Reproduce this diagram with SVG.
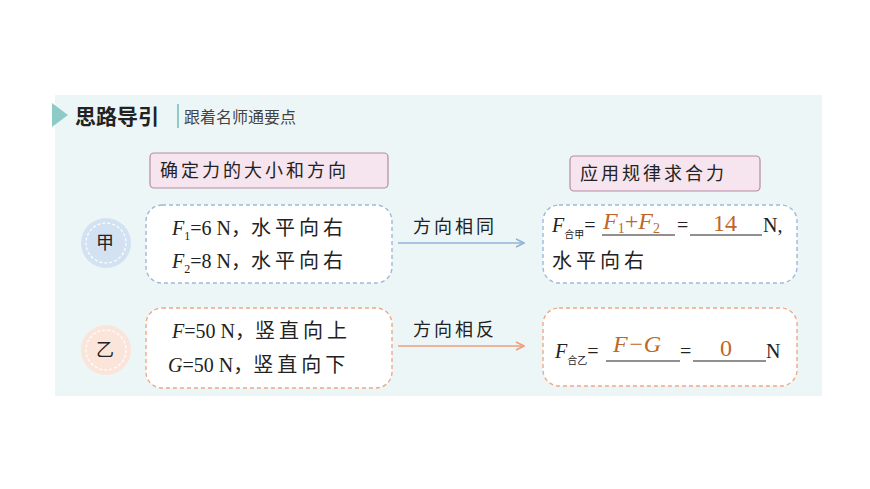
<svg xmlns="http://www.w3.org/2000/svg" width="870" height="489" viewBox="0 0 870 489">
<style>
.t{font-family:"Liberation Serif","Noto Sans CJK SC",serif;font-size:20px;fill:#222}
.s{letter-spacing:4px}
.c{font-family:"Noto Sans CJK SC",serif;font-size:18px;fill:#222;letter-spacing:3px}
.o{font-family:"Liberation Serif","Noto Sans CJK SC",serif;font-size:24px;fill:#c0662a}
.lab{fill:#f6e4ef;stroke:#b58aa5;stroke-width:1.2}
.bb{fill:#fff;stroke:#9fb8dc;stroke-width:1.4;stroke-dasharray:4 3}
.ob{fill:#fff;stroke:#efa888;stroke-width:1.4;stroke-dasharray:4 3}
.ul{stroke:#222;stroke-width:1.2}
</style>
<defs>
<marker id="ab" markerWidth="10" markerHeight="10" refX="9" refY="5" orient="auto" markerUnits="userSpaceOnUse"><path d="M1,1 L9,5 L1,9" fill="none" stroke="#8fb6d6" stroke-width="1.6"/></marker>
<marker id="ao" markerWidth="10" markerHeight="10" refX="9" refY="5" orient="auto" markerUnits="userSpaceOnUse"><path d="M1,1 L9,5 L1,9" fill="none" stroke="#ee9f7f" stroke-width="1.6"/></marker>
</defs>
<rect width="870" height="489" fill="#fff"/>
<rect x="55" y="95" width="767" height="301" fill="#edf6f6"/>
<g id="header">
<path d="M52,103 L68,115 L52,127 Z" fill="#8ecbc6"/>
<text x="75" y="124" font-family="Noto Sans CJK SC,sans-serif" font-size="21" font-weight="bold" fill="#222">思路导引</text>
<line x1="178" y1="104" x2="178" y2="128" stroke="#8ecbc6" stroke-width="2"/>
<text x="184" y="123" font-family="Noto Sans CJK SC,serif" font-size="16" fill="#444">跟着名师通要点</text>
</g>
<g id="label1"><rect class="lab" x="150" y="153" width="238" height="35" rx="4"/><text class="c" x="160" y="177">确定力的大小和方向</text></g>
<g id="label2"><rect class="lab" x="570" y="156" width="190" height="35" rx="4"/><text class="c" x="580" y="180">应用规律求合力</text></g>
<g id="jia"><circle cx="106" cy="243" r="25" fill="#d3e2f2"/><circle cx="106" cy="243" r="20" fill="none" stroke="#fff" stroke-width="1.2" stroke-dasharray="3 2"/><text class="c" x="96" y="249">甲</text></g>
<g id="yi"><circle cx="106" cy="350" r="25" fill="#fbe5da"/><circle cx="106" cy="350" r="20" fill="none" stroke="#fff" stroke-width="1.2" stroke-dasharray="3 2"/><text class="c" x="96" y="356">乙</text></g>
<g id="box1"><rect class="bb" x="146" y="205" width="246" height="78" rx="16"/>
<text class="t" x="172" y="235"><tspan font-style="italic">F</tspan><tspan font-size="12" dy="5">1</tspan><tspan dy="-5">=6 N，</tspan><tspan class="s">水平向右</tspan></text>
<text class="t" x="172" y="268"><tspan font-style="italic">F</tspan><tspan font-size="12" dy="5">2</tspan><tspan dy="-5">=8 N，</tspan><tspan class="s">水平向右</tspan></text></g>
<g id="box2"><rect class="ob" x="146" y="308" width="246" height="80" rx="16"/>
<text class="t" x="172" y="338"><tspan font-style="italic">F</tspan>=50 N，<tspan class="s">竖直向上</tspan></text>
<text class="t" x="168" y="372"><tspan font-style="italic">G</tspan>=50 N，<tspan class="s">竖直向下</tspan></text></g>
<g id="box3"><rect class="bb" x="543" y="205" width="254" height="78" rx="16"/>
<text class="t" x="552" y="232"><tspan font-style="italic">F</tspan><tspan font-size="10" dy="6">合甲</tspan><tspan dy="-6">=</tspan></text>
<text class="o" x="603" y="229" font-style="italic">F<tspan font-size="14" dy="4" font-style="normal">1</tspan><tspan dy="-4" font-style="normal">+</tspan>F<tspan font-size="14" dy="4" font-style="normal">2</tspan></text>
<line class="ul" x1="602" y1="235" x2="675" y2="235"/>
<text class="t" x="677" y="232">=</text>
<line class="ul" x1="690" y1="235" x2="762" y2="235"/>
<text class="o" x="713" y="231">14</text>
<text class="t" x="763" y="232">N,</text>
<text class="t s" x="552" y="268">水平向右</text></g>
<g id="box4"><rect class="ob" x="543" y="308" width="254" height="78" rx="16"/>
<text class="t" x="555" y="358"><tspan font-style="italic">F</tspan><tspan font-size="10" dy="6">合乙</tspan><tspan dy="-6">=</tspan></text>
<text class="o" x="613" y="352" font-style="italic">F−G</text>
<line class="ul" x1="606" y1="361" x2="680" y2="361"/>
<text class="t" x="680" y="358">=</text>
<line class="ul" x1="693" y1="361" x2="766" y2="361"/>
<text class="o" x="720" y="356">0</text>
<text class="t" x="766" y="358">N</text></g>
<g id="connectors">
<line x1="398" y1="243" x2="524" y2="243" stroke="#8fb6d6" stroke-width="1.6" marker-end="url(#ab)"/>
<text class="c" x="413" y="233">方向相同</text>
<line x1="398" y1="346" x2="524" y2="346" stroke="#ee9f7f" stroke-width="1.6" marker-end="url(#ao)"/>
<text class="c" x="413" y="336">方向相反</text>
</g>
</svg>
